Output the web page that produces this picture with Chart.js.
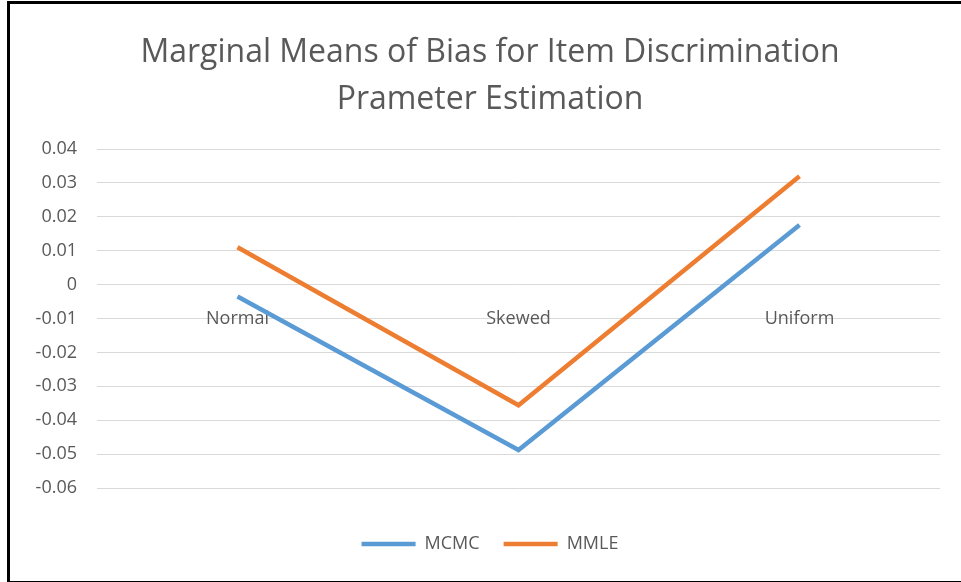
<!DOCTYPE html>
<html>
<head>
<meta charset="utf-8">
<script src="https://cdn.jsdelivr.net/npm/chart.js@4.4.1/dist/chart.umd.min.js"></script>
<style>
  html, body { margin: 0; padding: 0; background: #fff; }
  #wrap { position: absolute; left: 0; top: 0; width: 961px; height: 582px; }
  #frame { position: absolute; left: 7px; top: 1px; width: 951px; height: 577px;
           border: 3px solid #000; border-right: 1px solid #d0d0d0; pointer-events: none; }
</style>
</head>
<body>
<div id="wrap">
  <canvas id="chart" width="961" height="582"></canvas>
  <div id="frame"></div>
</div>
<script>
// data
var categories = ["Normal", "Skewed", "Uniform"];
var mcmcValues = [-0.0035, -0.0488, 0.0176];
var mmleValues = [0.0110, -0.0356, 0.0320];
var titleLines = ["Marginal Means of Bias for Item Discrimination", "Prameter Estimation"];

var textColor = "#595959";
var fontName = "'Open Sans', 'Noto Sans', sans-serif";

// Excel puts the category names next to the zero line, not at the bottom
var categoryLabels = {
    id: "categoryLabels",
    beforeDatasetsDraw: function(chart) {
        var ctx = chart.ctx;
        var x = chart.scales.x, y = chart.scales.y;
        var y0 = y.getPixelForValue(0);
        ctx.save();
        ctx.fillStyle = textColor;
        ctx.font = "18px " + fontName;
        ctx.textAlign = "center";
        ctx.textBaseline = "middle";
        for (var i = 0; i < categories.length; i++)
            ctx.fillText(categories[i], x.getPixelForValue(i), y0 + 34);
        ctx.restore();
    }
};

// title and legend sit a bit right of the canvas centre in the original
var shiftBoxes = {
    id: "shiftBoxes",
    afterLayout: function(chart) {
        var dx = 15;
        [chart.titleBlock, chart.legend].forEach(function(b) {
            if (!b) return;
            b.left += dx;
            b.right += dx;
        });
    }
};

var ctx = document.getElementById("chart").getContext("2d");
// the original text is loosely spaced
ctx.letterSpacing = "1px";

var chart = new Chart(ctx, {
    type: "line",
    data: {
        labels: categories,
        datasets: [{
            label: "MCMC",
            data: mcmcValues,
            borderColor: "#5b9bd5",
            backgroundColor: "#5b9bd5",
            borderWidth: 4.5,
            pointRadius: 0,
            tension: 0
        }, {
            label: "MMLE",
            data: mmleValues,
            borderColor: "#ed7d31",
            backgroundColor: "#ed7d31",
            borderWidth: 4.5,
            pointRadius: 0,
            tension: 0
        }]
    },
    options: {
        responsive: false,
        animation: false,
        layout: { padding: { left: 10, right: 21, top: 29, bottom: 19 } },
        plugins: {
            title: {
                display: true,
                text: titleLines,
                color: textColor,
                font: { family: fontName, size: 32, weight: "normal", lineHeight: 1.469 },
                padding: { top: 0, bottom: 26 }
            },
            legend: {
                position: "bottom",
                labels: {
                    color: textColor,
                    font: { family: fontName, size: 18 },
                    usePointStyle: true,
                    pointStyle: "line",
                    pointStyleWidth: 54,
                    padding: 24
                }
            },
            tooltip: { enabled: false }
        },
        scales: {
            x: {
                offset: true,
                ticks: { display: false },
                grid: { display: false },
                border: { display: false },
                afterFit: function(scale) { scale.height = 23; }
            },
            y: {
                min: -0.06,
                max: 0.04,
                ticks: {
                    stepSize: 0.01,
                    color: textColor,
                    font: { family: fontName, size: 18 },
                    padding: 20,
                    callback: function(v) { return Math.round(v * 100) / 100; }
                },
                grid: { color: "#d9d9d9", lineWidth: 1, drawTicks: false },
                border: { display: false },
                afterFit: function(scale) { scale.width = 87; }
            }
        }
    },
    plugins: [categoryLabels, shiftBoxes]
});
</script>
</body>
</html>
